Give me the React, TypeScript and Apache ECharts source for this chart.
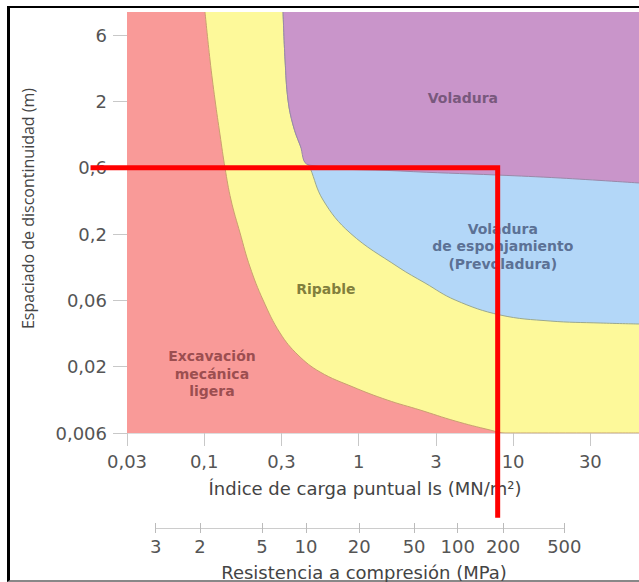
import React, { useEffect, useRef } from "react";
import * as echarts from "echarts";

// Axis positions are in "half-decade" steps (the chart's schematic log spacing)
const isTickLabels = ["0,03", "0,1", "0,3", "1", "3", "10", "30"];
const spacingTickLabels = ["0,006", "0,02", "0,06", "0,2", "0,6", "2", "6"];
const ucsTickLabels = ["3", "2", "5", "10", "20", "50", "100", "200", "500"];
const ucsTickPositions = [0.368, 0.942, 1.745, 2.315, 3.005, 3.715, 4.28, 4.867, 5.66];

// Excavación / Ripable boundary
const rippingBoundary: number[][] = [
  [1.01, 6.35], [1.075, 5.626], [1.14, 5.023], [1.205, 4.495], [1.269, 4.0],
  [1.347, 3.514], [1.464, 3.017], [1.593, 2.504], [1.762, 2.006], [1.982, 1.508],
  [2.215, 1.176], [2.5, 0.92], [2.927, 0.694], [3.368, 0.498], [3.795, 0.347],
  [4.249, 0.181], [4.702, 0.045], [4.896, 0], [6.63, 0],
];
// Ripable / Voladura de esponjamiento boundary
const blastBoundary: number[][] = [
  [2.021, 6.35], [2.047, 5.626], [2.085, 5.023], [2.15, 4.646], [2.241, 4.344],
  [2.37, 4.0], [2.539, 3.514], [2.889, 3.017], [3.51, 2.504], [3.86, 2.262],
  [4.249, 2.006], [4.832, 1.78], [5.479, 1.689], [6.127, 1.659], [6.632, 1.644],
];
// Voladura (upper) boundary
const fullBlastBoundary: number[][] = [
  [2.021, 6.35], [2.047, 5.626], [2.085, 5.023], [2.15, 4.646], [2.241, 4.344],
  [2.358, 4.042], [3.536, 3.952], [4.793, 3.891], [5.609, 3.846], [6.632, 3.771],
];
// Red guide line (Is ≈ 8, spacing 0,6)
const guidePath: number[][] = [[-0.44, 4], [4.8, 4], [4.8, -1.24]];

const regionNames = ["Excavación\nmecánica\nligera", "Ripable", "Voladura", "Voladura\nde esponjamiento\n(Prevoladura)"];
const regionPositions: number[][] = [[1.1, 0.89], [2.575, 2.17], [4.35, 5.05], [4.866, 2.82]];
const regionTextColors = ["#83393d", "#5f5d24", "#634868", "#44557a"];

const FONT = "DejaVu Sans";

export default function App() {
  const ref = useRef<HTMLDivElement>(null);
  useEffect(() => {
    if (!ref.current) return;
    const chart = echarts.init(ref.current, null, { renderer: "svg" });
    const xCustom = isTickLabels.map((_, i) => i);
    const yCustom = spacingTickLabels.map((_, i) => i);
    const ucsFormatter = (v: number) => {
      const i = ucsTickPositions.findIndex((p) => Math.abs(p - v) < 1e-6);
      return i >= 0 ? ucsTickLabels[i] : "";
    };
    const area = (data: number[][], fill: string, stroke: string, z: number) => ({
      type: "line", xAxisIndex: 0, yAxisIndex: 0, data, symbol: "none",
      smooth: 0.4,
      lineStyle: { color: stroke, width: 1 },
      areaStyle: { color: fill, opacity: 1, origin: "end" }, z,
    });
    chart.setOption({
      animation: false,
      grid: [
        { left: 127, top: 12, width: 512, height: 421, show: true, backgroundColor: "#f99a98", borderWidth: 0 },
        { left: 155.7, top: 523, width: 408.6, height: 5.3, show: false },
      ],
      xAxis: [
        {
          type: "value", gridIndex: 0, min: 0, max: 6.63,
          axisLine: { show: true, lineStyle: { color: "#dddddd", width: 1 } },
          axisTick: { show: true, length: 13, customValues: xCustom, lineStyle: { color: "#c8c8c8" } },
          axisLabel: {
            customValues: xCustom, margin: 19, color: "#555", fontFamily: FONT, fontSize: 18,
            formatter: (v: number) => isTickLabels[Math.round(v)] ?? "",
          },
          splitLine: { show: false },
          name: "Índice de carga puntual Is (MN/m²)", nameLocation: "middle", nameGap: 46,
          nameTextStyle: { color: "#444", fontFamily: FONT, fontSize: 18, padding: [0, 36, 0, 0] },
        },
        {
          type: "value", gridIndex: 1, position: "bottom", min: 0.368, max: 5.66,
          axisLine: { show: true, lineStyle: { color: "#cccccc", width: 1 } },
          axisTick: { show: true, length: 5, customValues: ucsTickPositions, lineStyle: { color: "#bbbbbb" } },
          axisLabel: { customValues: ucsTickPositions, margin: 9, color: "#555", fontFamily: FONT, fontSize: 18, formatter: ucsFormatter },
          splitLine: { show: false },
          name: "Resistencia a compresión (MPa)", nameLocation: "middle", nameGap: 35,
          nameTextStyle: { color: "#444", fontFamily: FONT, fontSize: 18, padding: [0, 0, 0, 8] },
        },
        {
          type: "value", gridIndex: 1, position: "top", min: 0.368, max: 5.66,
          axisLine: { show: false },
          axisTick: { show: true, inside: true, length: 5.3, customValues: ucsTickPositions, lineStyle: { color: "#bbbbbb" } },
          axisLabel: { show: false },
          splitLine: { show: false },
        },
      ],
      yAxis: [
        {
          type: "value", gridIndex: 0, min: 0, max: 6.35,
          axisLine: { show: false },
          axisTick: { show: true, length: 14, customValues: yCustom, lineStyle: { color: "#c8c8c8" } },
          axisLabel: {
            customValues: yCustom, margin: 20, color: "#555", fontFamily: FONT, fontSize: 18,
            formatter: (v: number) => spacingTickLabels[Math.round(v)] ?? "",
          },
          splitLine: { show: false },
          name: "Espaciado de discontinuidad (m)", nameLocation: "middle", nameGap: 91, nameRotate: 90,
          nameTextStyle: { color: "#444", fontFamily: "Open Sans", fontSize: 16, padding: [0, 0, 0, 28] },
        },
        { type: "value", gridIndex: 1, min: 0, max: 1, show: false },
      ],
      series: [
        area(rippingBoundary, "#fdf99a", "#c9a070", 1),
        area(blastBoundary, "#b3d7f8", "#9aa890", 2),
        area(fullBlastBoundary, "#c995ca", "#9a88a8", 3),
        {
          type: "scatter", xAxisIndex: 0, yAxisIndex: 0, symbolSize: 0, z: 4,
          data: regionNames.map((n, i) => ({
            name: n, value: regionPositions[i],
            label: { color: regionTextColors[i] },
          })),
          label: {
            show: true, position: "inside", formatter: "{b}", fontFamily: FONT, fontSize: 14,
            fontWeight: "bold", lineHeight: 17.5, align: "center", verticalAlign: "middle",
          },
        },
        {
          type: "custom", coordinateSystem: "cartesian2d", xAxisIndex: 0, yAxisIndex: 0,
          clip: false, z: 10, data: guidePath,
          renderItem: (params: any, api: any) => {
            if (params.dataIndex !== 0) return null;
            const pts = guidePath.map((p) => api.coord(p));
            return {
              type: "polyline",
              shape: { points: pts },
              style: { stroke: "#ff0000", lineWidth: 5, fill: "none", lineJoin: "miter", lineCap: "square" },
            };
          },
        },
      ],
    });
    return () => chart.dispose();
  }, []);
  return (
    <div style={{ position: "fixed", left: 0, top: 0, width: 639, height: 582, background: "#fff", overflow: "hidden" }}>
      <div
        style={{
          position: "absolute", left: 7, top: 6, width: 700, height: 576, boxSizing: "border-box",
          borderTop: "2px solid #000", borderLeft: "3px solid #000", borderBottom: "2px solid #888",
        }}
      />
      <div ref={ref} style={{ position: "absolute", left: 0, top: 0, width: 639, height: 582 }} />
    </div>
  );
}
